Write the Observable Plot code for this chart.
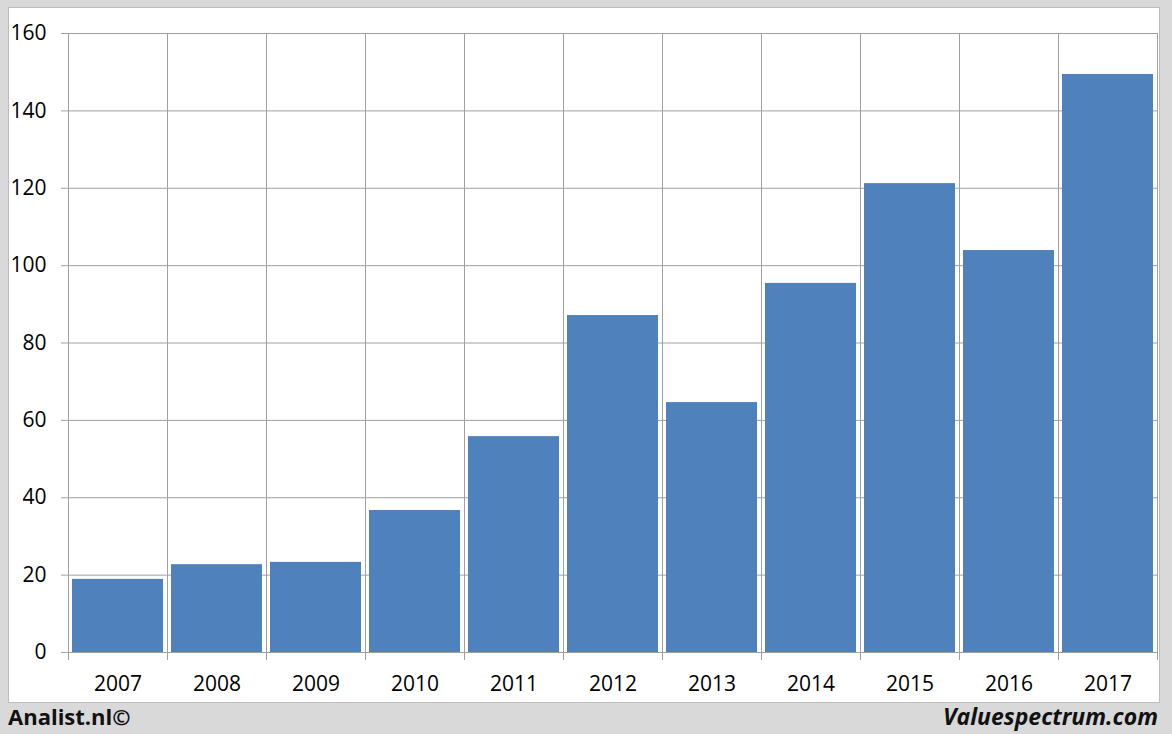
<!DOCTYPE html>
<html>
<head>
<meta charset="utf-8">
<script src="https://cdn.jsdelivr.net/npm/d3@7"></script>
<script src="https://cdn.jsdelivr.net/npm/@observablehq/plot@0.6"></script>
<style>
  html, body { margin: 0; padding: 0; }
  body { width: 1172px; height: 734px; background: #d9d9d9; position: relative; overflow: hidden; font-family: "Open Sans", sans-serif; }
  #panel { position: absolute; left: 8px; top: 7px; width: 1150px; height: 694px; background: #fff; border: 1px solid #bcbcbc; }
  #chart { position: absolute; left: 0; top: 0; }
  .foot { position: absolute; top: 701px; font-weight: bold; font-size: 22px; color: #111; }
  #left { left: 8px; }
  #right { right: 14px; font-style: italic; font-size: 23px; top: 700px; }
</style>
</head>
<body>
<div id="panel"></div>
<div id="chart"></div>
<div class="foot" id="left">Analist.nl©</div>
<div class="foot" id="right">Valuespectrum.com</div>
<script>
const years = [2007, 2008, 2009, 2010, 2011, 2012, 2013, 2014, 2015, 2016, 2017];
const values = [18.9, 22.7, 23.3, 36.7, 55.8, 87.1, 64.6, 95.4, 121.2, 103.9, 149.4];
const yTicks = [0, 20, 40, 60, 80, 100, 120, 140, 160];

const data = years.map((y, i) => ({year: y, value: values[i]}));
const edges = years.map(y => y - 0.5).concat([years[years.length - 1] + 0.5]);
const gridColor = "#a0a0a0";

const chart = Plot.plot({
  width: 1172,
  height: 700,
  marginLeft: 68,
  marginRight: 15,
  marginTop: 33,
  marginBottom: 48,
  style: {background: "transparent", fontFamily: "Open Sans, sans-serif", fontSize: "21px", color: "#000"},
  x: {type: "linear", domain: [edges[0], edges[edges.length - 1]], label: null},
  y: {domain: [0, 160], label: null},
  marks: [
    Plot.ruleY(yTicks, {stroke: gridColor, strokeWidth: 1, strokeOpacity: 1, insetLeft: -7}),
    Plot.ruleX(edges, {stroke: gridColor, strokeWidth: 1, strokeOpacity: 1, insetBottom: -8}),
    Plot.rectY(data, {x1: d => d.year - 0.5, x2: d => d.year + 0.5, y: "value", fill: "#4f81bd", insetLeft: 4, insetRight: 4}),
    Plot.ruleY([0], {stroke: gridColor}),
    Plot.axisY({ticks: yTicks, tickSize: 0, tickPadding: 22, fontSize: 21, fill: "#000", label: null, tickFormat: d => String(d)}),
    Plot.axisX({ticks: years, tickSize: 0, tickPadding: 24, fontSize: 21, fill: "#000", label: null, tickFormat: d => String(d)})
  ]
});
document.getElementById("chart").appendChild(chart);
</script>
</body>
</html>
